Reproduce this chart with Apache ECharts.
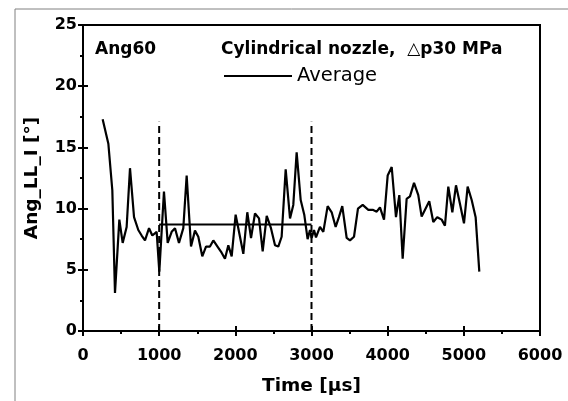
<!DOCTYPE html>
<html><head><meta charset="utf-8">
<script src="https://cdn.jsdelivr.net/npm/echarts@6/dist/echarts.min.js"></script>
<style>html,body{margin:0;padding:0;background:#fff}#c{width:568px;height:401px}</style>
</head><body><div id="c"></div>
<script>
const timeUs = [258,333,385,420,477,521,573,617,670,726,770,814,867,910,967,1002,1063,1112,1164,1208,1260,1317,1361,1418,1470,1514,1566,1615,1667,1711,1777,1820,1864,1908,1952,2004,2061,2105,2157,2206,2258,2311,2359,2412,2468,2521,2564,2608,2661,2718,2761,2805,2858,2905,2949,2980,3002,3033,3059,3111,3155,3212,3265,3317,3360,3404,3462,3505,3558,3610,3672,3746,3803,3856,3899,3952,4000,4053,4109,4153,4197,4249,4293,4346,4402,4446,4546,4599,4651,4709,4752,4796,4849,4897,4949,5002,5050,5103,5155,5203];
const angle = [17.3,15.3,11.5,3.1,9.1,7.2,8.5,13.3,9.3,8.25,7.8,7.4,8.4,7.8,8.1,4.85,11.4,7.2,8.1,8.4,7.2,8.4,12.7,6.9,8.2,7.7,6.1,6.9,6.9,7.4,6.8,6.4,5.9,7.0,6.1,9.5,7.7,6.3,9.7,7.6,9.6,9.2,6.5,9.4,8.4,7.0,6.9,7.7,13.2,9.2,10.3,14.6,10.7,9.5,7.5,8.25,7.6,8.25,7.65,8.5,8.1,10.2,9.7,8.5,9.3,10.2,7.6,7.4,7.7,10.0,10.3,9.9,9.9,9.75,10.1,9.1,12.7,13.4,9.3,11.1,5.9,10.8,11.0,12.1,11.1,9.35,10.6,8.9,9.3,9.1,8.6,11.8,9.7,11.9,10.4,8.8,11.8,10.7,9.3,4.85];
const averageTime = [1000, 3000];
const averageValue = [8.7, 8.7];
const markerTimes = [1000, 3000];
const markerRange = [0, 17.1];
const xTicks = [0,1000,2000,3000,4000,5000,6000];
const yTicks = [0,5,10,15,20,25];

const FONT = 'DejaVu Sans';
const chart = echarts.init(document.getElementById('c'), null, {renderer:'canvas'});
const lbl = {color:'#000', fontFamily:FONT, fontWeight:'bold', fontSize:16};
const xBase = {type:'value', min:xTicks[0], max:xTicks[xTicks.length-1], interval:1000, splitLine:{show:false}};
const yBase = {type:'value', min:yTicks[0], max:yTicks[yTicks.length-1], interval:5, splitLine:{show:false}};
const series = [{
  type:'line', name:'data', data: timeUs.map((t,i)=>[t, angle[i]]), showSymbol:false,
  lineStyle:{color:'#000', width:2.2}, itemStyle:{color:'#000'}, z:3
},{
  type:'line', name:'Average', data: averageTime.map((t,i)=>[t, averageValue[i]]), showSymbol:false,
  lineStyle:{color:'#000', width:2}, itemStyle:{color:'#000'}, z:4
}];
markerTimes.forEach(t=>{
  series.push({type:'line', data: markerRange.map(v=>[t,v]), showSymbol:false,
    lineStyle:{color:'#000', width:2, type:[7,4]}, z:2});
});
chart.setOption({
  animation:false,
  backgroundColor:'#fff',
  grid:{left:83, right:28, top:25, bottom:70, show:true, borderColor:'#000', borderWidth:2},
  legend:{data:[{name:'Average', icon:'rect'}], left:219, top:61, itemWidth:68, itemHeight:2, itemGap:3,
    textStyle:{color:'#000', fontFamily:FONT, fontSize:19.5}},
  xAxis:[Object.assign({}, xBase, {
    name:'Time [µs]', nameLocation:'middle', nameGap:46,
    nameTextStyle:Object.assign({}, lbl, {fontSize:18.5}),
    axisLine:{lineStyle:{color:'#000', width:2}},
    axisTick:{length:5, lineStyle:{color:'#000', width:2}},
    minorTick:{show:true, splitNumber:2, length:3, lineStyle:{color:'#000', width:2}},
    axisLabel:Object.assign({}, lbl, {margin:17, formatter:v=>String(v)})
  }), Object.assign({}, xBase, {position:'bottom',
    axisLine:{show:false}, axisLabel:{show:false},
    axisTick:{inside:true, length:5, lineStyle:{color:'#000', width:2}}
  })],
  yAxis:[Object.assign({}, yBase, {
    name:'Ang_LL_I [°]', nameLocation:'middle', nameGap:41,
    nameTextStyle:Object.assign({}, lbl, {fontSize:18.5}),
    axisLine:{lineStyle:{color:'#000', width:2}},
    axisTick:{length:5, lineStyle:{color:'#000', width:2}},
    minorTick:{show:true, splitNumber:2, length:3, lineStyle:{color:'#000', width:2}},
    axisLabel:Object.assign({}, lbl, {margin:6, formatter:v=>String(v)})
  }), Object.assign({}, yBase, {position:'left',
    axisLine:{show:false}, axisLabel:{show:false},
    axisTick:{inside:true, length:5, lineStyle:{color:'#000', width:2}}
  })],
  graphic:[
    {type:'line', shape:{x1:15, y1:9, x2:15, y2:401}, style:{stroke:'#808080', lineWidth:1}},
    {type:'line', shape:{x1:15, y1:9, x2:568, y2:9}, style:{stroke:'#808080', lineWidth:1}},
    {type:'text', left:95, top:41, style:{text:'Ang60', fill:'#000', font:'bold 17px "DejaVu Sans"'}},
    {type:'text', left:221, top:41, style:{text:'Cylindrical nozzle,  \u25B3p30 MPa', fill:'#000', font:'bold 17px "DejaVu Sans"'}}
  ],
  series: series
});
</script></body></html>
